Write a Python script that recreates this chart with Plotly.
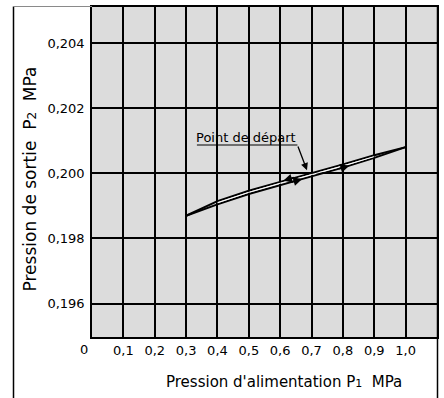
import numpy as np
import plotly.graph_objects as go

# ---- data ----
p1 = [0.3, 0.4, 0.5, 0.6, 0.7, 0.8, 0.9, 1.0]
p2_falling = [0.19870, 0.19915, 0.19947, 0.19975, 0.20001, 0.20028, 0.20056, 0.20081]  # upper branch
p2_rising = [0.19870, 0.19905, 0.19937, 0.19965, 0.19991, 0.20018, 0.20048, 0.20081]   # lower branch

x_tickvals = [0.1, 0.2, 0.3, 0.4, 0.5, 0.6, 0.7, 0.8, 0.9, 1.0]
x_ticktext = ["0,1", "0,2", "0,3", "0,4", "0,5", "0,6", "0,7", "0,8", "0,9", "1,0"]
y_tickvals = [0.196, 0.198, 0.200, 0.202, 0.204]
y_ticktext = ["0,196", "0,198", "0,200", "0,202", "0,204"]

arrow_x = [0.61, 0.67, 0.82]
arrow_branch = ["falling", "rising", "rising"]
arrow_dir = [-1, 1, 1]

start_x = 0.69
start_label = "Point de départ"

x_title = "Pression d'alimentation P<span style='font-size:11px'>1</span>  MPa"
y_title = "Pression de sortie  P<span style='font-size:12px'>2</span>  MPa"

# ---- layout geometry ----
W, H = 444, 398
ML, MR, MT, MB = 92, 7, 5, 61
PW, PH = W - ML - MR, H - MT - MB
XR = [0, 1.1]
YR = [0.19497, 0.20512]
FONT = "DejaVu Sans"


def px(xp):
    return (xp - ML) / PW


def py(yp):
    return (H - MB - yp) / PH


fig = go.Figure()

fig.add_trace(go.Scatter(x=p1, y=p2_falling, mode="lines",
                         line=dict(color="black", width=2), hoverinfo="skip"))
fig.add_trace(go.Scatter(x=p1, y=p2_rising, mode="lines",
                         line=dict(color="black", width=2), hoverinfo="skip"))
mid = [(a + b) / 2 for a, b in zip(p2_falling, p2_rising)]
fig.add_trace(go.Scatter(x=p1[1:-1], y=mid[1:-1], mode="lines",
                         line=dict(color="white", width=1), hoverinfo="skip"))

branches = {"falling": p2_falling, "rising": p2_rising}
annotations = []
for xa, br, d in zip(arrow_x, arrow_branch, arrow_dir):
    ya = float(np.interp(xa, p1, branches[br]))
    annotations.append(dict(x=xa, y=ya, xref="x", yref="y", text="", showarrow=True,
                            ax=-12 * d, ay=3.6 * d, arrowhead=2, arrowsize=1.1,
                            arrowwidth=1.6, arrowcolor="black", standoff=0))

ys = float(np.interp(start_x, p1, p2_falling))
annotations.append(dict(x=start_x, y=ys, xref="x", yref="y", text="", showarrow=True,
                        ax=-11, ay=-29, arrowhead=2, arrowsize=1.1, arrowwidth=1.3,
                        arrowcolor="black", standoff=4))
annotations.append(dict(x=start_x, y=ys, xref="x", yref="y", text="", showarrow=True,
                        xshift=-11, yshift=29, ax=-102, ay=0, arrowhead=0,
                        arrowwidth=1.2, arrowcolor="black", standoff=0, startstandoff=0))
annotations.append(dict(x=start_x, y=ys, xref="x", yref="y", text=start_label,
                        showarrow=False, xshift=-62, yshift=36,
                        xanchor="center", yanchor="middle",
                        font=dict(family=FONT, size=13, color="black")))

# "0" label, slightly left of the axis
annotations.append(dict(x=0, y=py(350), xref="x", yref="paper", text="0", showarrow=False,
                        xshift=-8, xanchor="center", yanchor="middle",
                        font=dict(family=FONT, size=13, color="black")))
# axis titles
annotations.append(dict(x=px(284), y=py(382), xref="paper", yref="paper", text=x_title,
                        showarrow=False, xanchor="center", yanchor="middle",
                        font=dict(family=FONT, size=15, color="black")))
annotations.append(dict(x=px(30), y=py(178.5), xref="paper", yref="paper", text=y_title,
                        textangle=-90, showarrow=False, xanchor="center", yanchor="middle",
                        font=dict(family=FONT, size=17, color="black")))

shapes = [
    dict(type="line", xref="paper", yref="paper", x0=px(13.5), x1=px(13.5),
         y0=py(4.5), y1=py(400), line=dict(color="black", width=1.5)),
    dict(type="line", xref="paper", yref="paper", x0=px(437.5), x1=px(437.5),
         y0=py(4.5), y1=py(400), line=dict(color="black", width=1.5)),
    dict(type="line", xref="paper", yref="paper", x0=px(13.5), x1=px(92),
         y0=py(4.5), y1=py(4.5), line=dict(color="#8a8a8a", width=1)),
]

fig.update_layout(
    width=W, height=H,
    margin=dict(l=ML, r=MR, t=MT, b=MB),
    paper_bgcolor="white", plot_bgcolor="#dcdcdc",
    showlegend=False,
    annotations=annotations, shapes=shapes,
    font=dict(family=FONT, size=13, color="black"),
)
fig.update_xaxes(range=XR, tickvals=x_tickvals, ticktext=x_ticktext,
                 showgrid=True, gridcolor="black", gridwidth=1.5, zeroline=False,
                 showline=True, linecolor="black", linewidth=1.5, mirror=True,
                 ticks="outside", ticklen=1, tickcolor="rgba(0,0,0,0)",
                 tickfont=dict(family=FONT, size=13, color="black"))
fig.update_yaxes(range=YR, tickvals=y_tickvals, ticktext=y_ticktext,
                 showgrid=True, gridcolor="black", gridwidth=1.5, zeroline=False,
                 showline=True, linecolor="black", linewidth=1.5, mirror=True,
                 ticks="outside", ticklen=3, tickcolor="rgba(0,0,0,0)",
                 tickfont=dict(family=FONT, size=13, color="black"))

fig.write_html("out.html")
